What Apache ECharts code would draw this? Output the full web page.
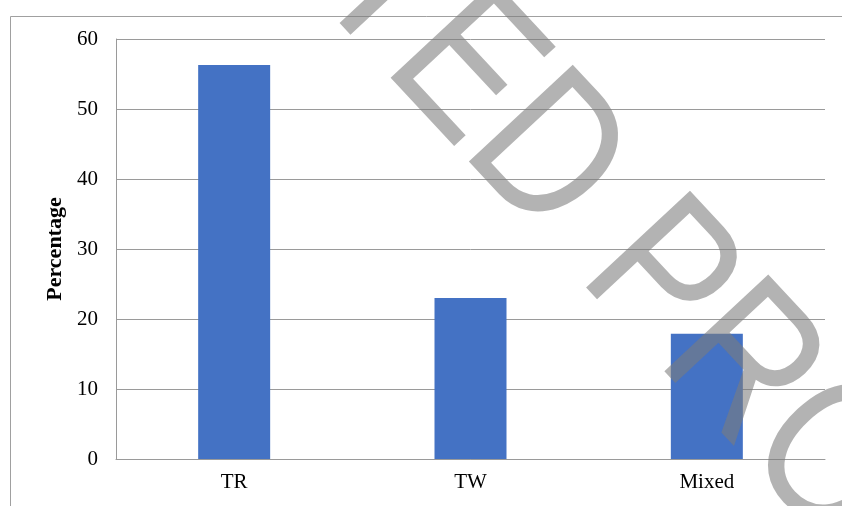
<!DOCTYPE html>
<html>
<head>
<meta charset="utf-8">
<script src="https://cdn.jsdelivr.net/npm/echarts@6/dist/echarts.min.js"></script>
<style>
html,body{margin:0;padding:0;background:#fff;}
#chart{width:842px;height:506px;}
</style>
</head>
<body>
<div id="chart"></div>
<script>
const categories = ['TR', 'TW', 'Mixed'];
const percentages = [56.3, 23.0, 17.9];
const yTicks = [0, 10, 20, 30, 40, 50, 60];
const yAxisTitle = 'Percentage';
const watermarkText = 'ACCEPTED PROOF';

const chart = echarts.init(document.getElementById('chart'), null, {renderer: 'canvas'});
const serif = '"Liberation Serif", "Times New Roman", serif';

chart.setOption({
  animation: false,
  backgroundColor: '#ffffff',
  grid: {left: 116, right: 17, top: 39, bottom: 47, containLabel: false},
  xAxis: {
    type: 'category',
    data: categories,
    axisLine: {show: true, lineStyle: {color: '#9a9a9a', width: 1}},
    axisTick: {show: false},
    axisLabel: {color: '#000', fontFamily: serif, fontSize: 21, margin: 13}
  },
  yAxis: {
    type: 'value',
    min: yTicks[0],
    max: yTicks[yTicks.length - 1],
    interval: 10,
    name: yAxisTitle,
    nameLocation: 'middle',
    nameGap: 45,
    nameRotate: 90,
    nameTextStyle: {color: '#000', fontFamily: serif, fontSize: 22, fontWeight: 'bold'},
    axisLine: {show: true, lineStyle: {color: '#9a9a9a', width: 1}},
    axisTick: {show: false},
    axisLabel: {color: '#000', fontFamily: serif, fontSize: 21, margin: 18},
    splitLine: {show: true, lineStyle: {color: '#9a9a9a', width: 1}}
  },
  series: [{
    type: 'bar',
    data: percentages,
    barWidth: 72,
    itemStyle: {color: '#4472C4'}
  }],
  graphic: [
    {
      type: 'rect',
      z: 100,
      shape: {x: 10.5, y: 16.5, width: 1000, height: 700},
      style: {fill: 'none', stroke: '#a0a0a0', lineWidth: 1}
    },
    {
      type: 'text',
      z: 200,
      x: 491,
      y: 102,
      rotation: -47 * Math.PI / 180,
      scaleX: 1,
      scaleY: 1.2,
      style: {
        text: watermarkText,
        fill: 'rgba(124,124,124,0.58)',
        font: '172px "Liberation Sans", Arial, sans-serif',
        align: 'center',
        verticalAlign: 'middle'
      }
    }
  ]
});
</script>
</body>
</html>
